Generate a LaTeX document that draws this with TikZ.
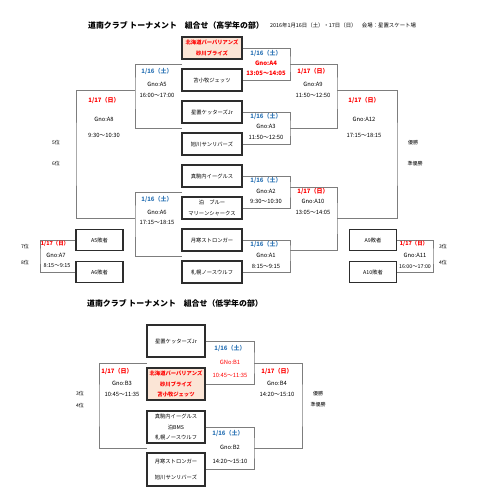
\documentclass[tikz,border=0pt]{standalone}
\usepackage{fontspec}
\setmainfont{Noto Sans CJK JP}
\usepackage{xcolor}
\usepackage{tikz}
\usetikzlibrary{positioning}

\definecolor{datered}{RGB}{255,0,0}
\definecolor{dateblue}{RGB}{46,117,182}
\definecolor{peach}{RGB}{251,229,214}
\definecolor{lineg}{RGB}{125,125,125}
\definecolor{boxg}{RGB}{45,45,45}
\newcommand\fsz[2]{\fontsize{#1pt}{#2pt}\selectfont}

\begin{document}
\begin{tikzpicture}[
    x=1pt, y=-1pt,
    every node/.style={inner sep=0pt, font=\fsz{5.8}{7}},
    team/.style={draw=boxg, line width=1.3pt, minimum width=60pt, minimum height=22pt, align=center, font=\fsz{5.3}{10.6}},
    seed/.style={team, fill=peach, text=datered, font=\fsz{5.3}{11}\bfseries},
    loser/.style={team, minimum width=47pt, minimum height=21pt},
    lowteam/.style={team, minimum width=58pt, minimum height=32pt, font=\fsz{5.3}{10.7}},
    bracket/.style={draw=lineg, line width=0.9pt},
    sat/.style={text=dateblue, font=\fsz{6}{7}\bfseries},
    sun/.style={text=datered, font=\fsz{6}{7}\bfseries},
    hot/.style={text=datered, font=\fsz{6}{7}\bfseries},
    rank/.style={font=\fsz{5}{6}}
  ]
    \useasboundingbox (0,0) rectangle (480,502);

    % Titles
    \node[font=\fsz{7.9}{9}\bfseries] (title1) at (176,25.5) {道南クラブ トーナメント　組合せ（高学年の部）};
    \node[anchor=west, font=\fsz{5.4}{6}] (info) at (270,25.5) {2016年1月16日（土）・17日（日）　会場：星置スケート場};

    % Teams - upper grades
    \node[seed] (h1) at (212,48) {北海道バーバリアンズ\\砂川ブライズ};
    \node[team] (h2) at (212,80) {苫小牧ジェッツ};
    \node[team] (h3) at (212,112) {星置ケッターズJr};
    \node[team] (h4) at (212,144) {旭川サンリバーズ};
    \node[team] (h5) at (212,176) {真駒内イーグルス};
    \node[team] (h6) at (212,208) {泊　ブルー\\マリーンシャークス};
    \node[team] (h7) at (212,240) {月寒ストロンガー};
    \node[team] (h8) at (212,272) {札幌ノースウルフ};

    % Losers
    \node[loser] (l5) at (99.5,240) {A5敗者};
    \node[loser] (l6) at (99.5,272) {A6敗者};
    \node[loser] (l9) at (373,240) {A9敗者};
    \node[loser] (l10) at (373,272) {A10敗者};

    % Bracket corners
    \coordinate (a4) at (290,64);
    \coordinate (a3) at (290,128);
    \coordinate (a2) at (290,187);
    \coordinate (a1) at (290,250);
    \coordinate (a9) at (337,90);
    \coordinate (a10) at (337,218);
    \coordinate (a12) at (397,154);
    \coordinate (g12) at (182,64);
    \coordinate (g34) at (182,128);
    \coordinate (g56) at (182,192);
    \coordinate (g78) at (182,256);
    \coordinate (a5) at (135,90);
    \coordinate (a6) at (135,218);
    \coordinate (a8) at (76,154);
    \coordinate (a7) at (40,256);
    \coordinate (a11) at (433,256);

    % Bracket lines
    \draw[bracket] (h1.east) -| (a4) |- (h2.east);
    \draw[bracket] (h3.east) -| (a3) |- (h4.east);
    \draw[bracket] (h5.east) -| (a2) |- (h6.east);
    \draw[bracket] (h7.east) -| (a1) |- (h8.east);
    \draw[bracket] (a4) -| (a9) |- (a3);
    \draw[bracket] (a2) -| (a10) |- (a1);
    \draw[bracket] (a9) -| (a12) |- (a10);
    \draw[bracket] (g12) -| (a5) |- (g34);
    \draw[bracket] (g56) -| (a6) |- (g78);
    \draw[bracket] (a5) -| (a8) |- (a6);
    \draw[bracket] (l5.west) -| (a7) |- (l6.west);
    \draw[bracket] (l9.east) -| (a11) |- (l10.east);

    % Games
    \node[sat] (a4d) at (266,53) {1/16（土）};
    \node[hot] (a4g) at (266,63.5) {Gno:A4};
    \node[hot] (a4t) at (266,73.5) {13:05～14:05};

    \node[sat] (a3d) at (266,116) {1/16（土）};
    \node (a3g) at (266,126.5) {Gno:A3};
    \node (a3t) at (266,137) {11:50～12:50};

    \node[sat] (a2d) at (266,180) {1/16（土）};
    \node (a2g) at (266,191) {Gno:A2};
    \node (a2t) at (266,201.5) {9:30～10:30};

    \node[sat] (a1d) at (266,244) {1/16（土）};
    \node (a1g) at (266,255) {Gno:A1};
    \node (a1t) at (266,266) {8:15～9:15};

    \node[sun] (a9d) at (313,71) {1/17（日）};
    \node (a9g) at (313,84) {Gno:A9};
    \node (a9t) at (313,95) {11:50～12:50};

    \node[sun] (a10d) at (313,191) {1/17（日）};
    \node (a10g) at (313,201.5) {Gno:A10};
    \node (a10t) at (313,212) {13:05～14:05};

    \node[sun] (a12d) at (364,100) {1/17（日）};
    \node (a12g) at (364,119) {Gno:A12};
    \node (a12t) at (364,135) {17:15～18:15};

    \node[sat] (a5d) at (157,71) {1/16（土）};
    \node (a5g) at (157,84) {Gno:A5};
    \node (a5t) at (157,95) {16:00～17:00};

    \node[sat] (a6d) at (157,199) {1/16（土）};
    \node (a6g) at (157,212.5) {Gno:A6};
    \node (a6t) at (157,222.5) {17:15～18:15};

    \node[sun] (a8d) at (104,100) {1/17（日）};
    \node (a8g) at (104,119) {Gno:A8};
    \node (a8t) at (104,135) {9:30～10:30};

    \node[sun, font=\fsz{5.4}{6}\bfseries] (a7d) at (55,244) {1/17（日）};
    \node (a7g) at (56,255) {Gno:A7};
    \node[font=\fsz{5.5}{6}] (a7t) at (57,266) {8:15～9:15};

    \node[sun, font=\fsz{5.4}{6}\bfseries] (a11d) at (414,244) {1/17（日）};
    \node (a11g) at (415,255) {Gno:A11};
    \node[font=\fsz{5.3}{6}] (a11t) at (415,267) {16:00～17:00};

    % Ranks
    \node[rank] (r5) at (56,143) {5位};
    \node[rank] (r6) at (56,164) {6位};
    \node[rank] (r1) at (413,143) {優勝};
    \node[rank] (r2) at (415,164) {準優勝};
    \node[rank] (r7) at (25,247) {7位};
    \node[rank] (r8) at (25,263) {8位};
    \node[rank] (r3) at (443,247) {3位};
    \node[rank] (r4) at (443,263) {4位};

    % Lower grades
    \node[font=\fsz{7.9}{9}\bfseries] (title2) at (175,303) {道南クラブ トーナメント　組合せ（低学年の部）};

    \node[lowteam] (k1) at (176,341) {星置ケッターズJr};
    \node[lowteam, fill=peach, text=datered, font=\fsz{5.3}{10.5}\bfseries] (k2) at (176,384) {北海道バーバリアンズ\\砂川ブライズ\\苫小牧ジェッツ};
    \node[lowteam] (k3) at (176,427) {真駒内イーグルス\\泊BMS\\札幌ノースウルフ};
    \node[lowteam, minimum height=33pt, font=\fsz{5.3}{16.3}] (k4) at (176,469.5) {月寒ストロンガー\\旭川サンリバーズ};

    \coordinate (b1) at (254,363);
    \coordinate (b2) at (254,448);
    \coordinate (b4) at (302,405);
    \coordinate (b3) at (99,405);
    \coordinate (gk12) at (147,363);
    \coordinate (gk34) at (147,448);

    \draw[bracket] (k1.east) -| (b1) |- (k2.east);
    \draw[bracket] (k3.east) -| (b2) |- (k4.east);
    \draw[bracket] (b1) -| (b4) |- (b2);
    \draw[bracket] (gk12) -| (b3) |- (gk34);

    \node[sat] (b1d) at (230,348) {1/16（土）};
    \node[text=datered] (b1g) at (230,362) {GNo:B1};
    \node[text=datered] (b1t) at (230,375.5) {10:45～11:35};

    \node[sat] (b2d) at (228,433) {1/16（土）};
    \node (b2g) at (230,447.5) {Gno:B2};
    \node (b2t) at (230,461) {14:20～15:10};

    \node[sun] (b3d) at (117,371) {1/17（日）};
    \node (b3g) at (122,383) {Gno:B3};
    \node (b3t) at (122,394) {10:45～11:35};

    \node[sun] (b4d) at (277,371) {1/17（日）};
    \node (b4g) at (277,383) {Gno:B4};
    \node (b4t) at (277,394) {14:20～15:10};

    \node[rank] (q3) at (80,394) {3位};
    \node[rank] (q4) at (80,406) {4位};
    \node[rank] (q1) at (318,394) {優勝};
    \node[rank] (q2) at (318,405) {準優勝};

  \end{tikzpicture}
\end{document}
